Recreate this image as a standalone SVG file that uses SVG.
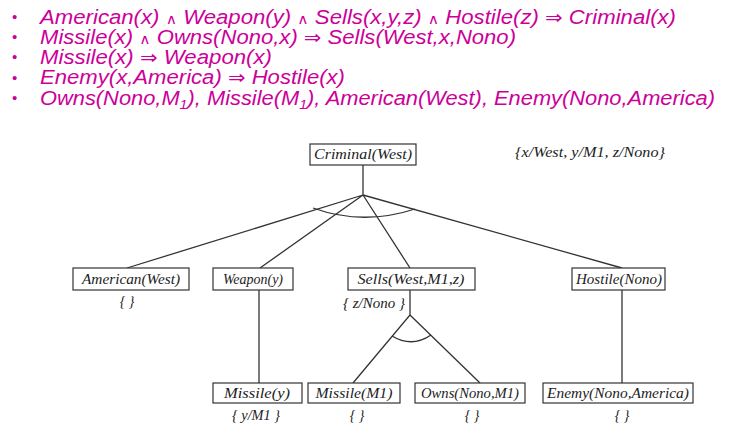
<svg xmlns="http://www.w3.org/2000/svg" width="733" height="441" viewBox="0 0 733 441">
<style>
.rule{font-family:"Liberation Sans",Arial,sans-serif;font-style:italic;font-size:20px;fill:#CC0099}
.bul{font-family:"Liberation Sans",Arial,sans-serif;font-size:15px;fill:#CC0099}
.op{font-family:"DejaVu Sans",sans-serif;font-style:normal;font-size:14px}
.ar{font-family:"DejaVu Sans",sans-serif;font-style:normal;font-size:19px}
.box{fill:#fff;stroke:#333;stroke-width:1.2}
.t{font-family:"Liberation Serif","Times New Roman",serif;font-style:italic;font-size:14px;fill:#222;text-anchor:middle}
.s{font-family:"Liberation Serif","Times New Roman",serif;font-style:italic;font-size:14px;fill:#222;text-anchor:middle}
.ln{stroke:#333;stroke-width:1.3;fill:none}
</style>
<rect width="733" height="441" fill="#fff"/>
<g id="rules">
<text class="bul" x="12" y="22">•</text>
<text class="bul" x="12" y="42">•</text>
<text class="bul" x="12" y="62">•</text>
<text class="bul" x="12" y="83">•</text>
<text class="bul" x="12" y="103">•</text>
<text class="rule" x="40" y="24" textLength="636" lengthAdjust="spacingAndGlyphs">American(x) <tspan class="op">∧</tspan> Weapon(y) <tspan class="op">∧</tspan> Sells(x,y,z) <tspan class="op">∧</tspan> Hostile(z) <tspan class="ar">⇒</tspan> Criminal(x)</text>
<text class="rule" x="40" y="44" textLength="476" lengthAdjust="spacingAndGlyphs">Missile(x) <tspan class="op">∧</tspan> Owns(Nono,x) <tspan class="ar">⇒</tspan> Sells(West,x,Nono)</text>
<text class="rule" x="40" y="64" textLength="232" lengthAdjust="spacingAndGlyphs">Missile(x) <tspan class="ar">⇒</tspan> Weapon(x)</text>
<text class="rule" x="40" y="84" textLength="305" lengthAdjust="spacingAndGlyphs">Enemy(x,America) <tspan class="ar">⇒</tspan> Hostile(x)</text>
<text class="rule" x="40" y="105" textLength="675" lengthAdjust="spacingAndGlyphs">Owns(Nono,M<tspan font-size="13" dy="4">1</tspan><tspan dy="-4">), Missile(M</tspan><tspan font-size="13" dy="4">1</tspan><tspan dy="-4">), American(West), Enemy(Nono,America)</tspan></text>
</g>
<g id="connectors">
<path class="ln" d="M363 165V195"/>
<path class="ln" d="M363 195L127 268M363 195L260 268M363 195L410 268M363 195L622 268"/>
<path class="ln" d="M313 208Q363 226 415 209"/>
<path class="ln" d="M259 290V383"/>
<path class="ln" d="M622 290V383"/>
<path class="ln" d="M410 290V315L353 383M410 315L480 383"/>
<path class="ln" d="M392 336Q412 348 431 335"/>
</g>
<g id="n-criminal"><rect class="box" x="310" y="144" width="106" height="21"/><text class="t" x="363" y="159" textLength="98" lengthAdjust="spacingAndGlyphs">Criminal(West)</text></g>
<g id="subst"><text class="s" x="590" y="157" textLength="150" lengthAdjust="spacingAndGlyphs">{x/West, y/M1, z/Nono}</text></g>
<g id="n-american"><rect class="box" x="73" y="268" width="116" height="22"/><text class="t" x="131" y="284" textLength="98" lengthAdjust="spacingAndGlyphs">American(West)</text><text class="s" x="127" y="306">{ }</text></g>
<g id="n-weapon"><rect class="box" x="213" y="268" width="80" height="22"/><text class="t" x="253" y="284" textLength="60" lengthAdjust="spacingAndGlyphs">Weapon(y)</text></g>
<g id="n-sells"><rect class="box" x="348" y="268" width="127" height="22"/><text class="t" x="411" y="284" textLength="107" lengthAdjust="spacingAndGlyphs">Sells(West,M1,z)</text><text class="s" x="374" y="308" textLength="62" lengthAdjust="spacingAndGlyphs">{ z/Nono }</text></g>
<g id="n-hostile"><rect class="box" x="572" y="268" width="93" height="22"/><text class="t" x="619" y="284" textLength="86" lengthAdjust="spacingAndGlyphs">Hostile(Nono)</text></g>
<g id="n-missile-y"><rect class="box" x="213" y="383" width="89" height="20"/><text class="t" x="257" y="398" textLength="66" lengthAdjust="spacingAndGlyphs">Missile(y)</text><text class="s" x="256" y="420" textLength="48" lengthAdjust="spacingAndGlyphs">{ y/M1 }</text></g>
<g id="n-missile-m1"><rect class="box" x="308" y="383" width="92" height="20"/><text class="t" x="354" y="398" textLength="77" lengthAdjust="spacingAndGlyphs">Missile(M1)</text><text class="s" x="357" y="420">{ }</text></g>
<g id="n-owns"><rect class="box" x="415" y="383" width="110" height="20"/><text class="t" x="470" y="398" textLength="98" lengthAdjust="spacingAndGlyphs">Owns(Nono,M1)</text><text class="s" x="472" y="420">{ }</text></g>
<g id="n-enemy"><rect class="box" x="543" y="383" width="150" height="20"/><text class="t" x="618" y="398" textLength="142" lengthAdjust="spacingAndGlyphs">Enemy(Nono,America)</text><text class="s" x="622" y="420">{ }</text></g>
</svg>
